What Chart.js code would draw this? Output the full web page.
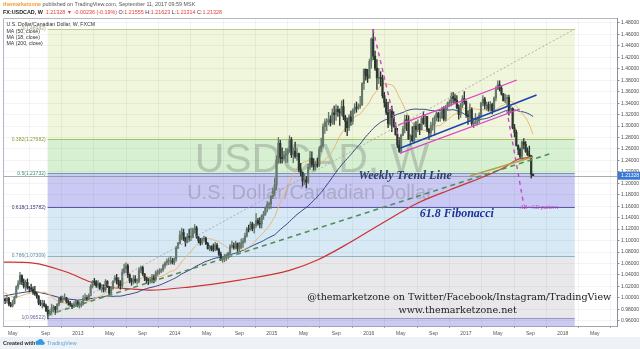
<!DOCTYPE html>
<html>
<head>
<meta charset="utf-8">
<script src="https://cdn.jsdelivr.net/npm/chart.js@4.4.1/dist/chart.umd.min.js"></script>
<style>
body{margin:0;background:#fff}
canvas{display:block}
</style>
</head>
<body>
<canvas id="c" width="640" height="349"></canvas>
<script>
// weekly USDCAD bars, first week starts Mon 26 Mar 2012
const firstWeek = [2012, 3, 26]
const firstOpen = 0.9990

const closes = [
0.9975,0.9950,0.9990,0.9890,0.9860,0.9900,1.0010,1.0190,1.0250,1.0390,
1.0280,1.0200,1.0270,1.0180,1.0170,1.0150,1.0100,1.0070,1.0030,0.9910,
0.9890,0.9900,0.9860,0.9780,0.9700,0.9760,0.9820,0.9840,0.9790,0.9890,
0.9990,0.9960,0.9990,1.0000,0.9930,0.9910,0.9870,0.9850,0.9890,0.9940,
0.9870,0.9870,0.9900,0.9990,1.0000,0.9990,1.0040,1.0200,1.0290,1.0280,
1.0210,1.0250,1.0160,1.0180,1.0140,1.0290,1.0190,1.0080,1.0160,1.0290,
1.0350,1.0300,1.0240,1.0210,1.0450,1.0510,1.0560,1.0400,1.0300,1.0280,
1.0330,1.0290,1.0290,1.0490,1.0530,1.0420,1.0360,1.0310,1.0300,1.0300,
1.0350,1.0320,1.0430,1.0450,1.0470,1.0490,1.0560,1.0610,1.0640,1.0640,
1.0640,1.0620,1.0680,1.0870,1.0950,1.1100,1.1140,1.1030,1.0970,1.1070,
1.1060,1.1060,1.1190,1.1220,1.1060,1.1000,1.0960,1.1030,1.1040,1.0950,
1.0860,1.0900,1.0850,1.0840,1.0920,1.0850,1.0760,1.0670,1.0680,1.0720,
1.0730,1.0780,1.0900,1.0910,1.0880,1.0950,1.0860,1.0880,1.0960,1.0990,
1.1080,1.1200,1.1190,1.1290,1.1210,1.1270,1.1350,1.1300,1.1290,1.1430,
1.1460,1.1580,1.1630,1.1640,1.1770,1.1870,1.1970,1.2410,1.2700,1.2450,
1.2430,1.2490,1.2510,1.2580,1.2760,1.2500,1.2560,1.2470,1.2520,1.2240,
1.2190,1.2040,1.2060,1.2020,1.2280,1.2440,1.2330,1.2290,1.2330,1.2320,
1.2600,1.2660,1.2990,1.3070,1.3080,1.3110,1.3060,1.3230,1.3200,1.3290,
1.3250,1.3230,1.3340,1.3160,1.3080,1.2970,1.3160,1.3080,1.3280,1.3320,
1.3310,1.3350,1.3370,1.3740,1.3990,1.3880,1.3840,1.4130,1.4520,1.4220,
1.4010,1.3840,1.3850,1.3830,1.3530,1.3410,1.3240,1.3040,1.3290,1.3150,
1.3000,1.2850,1.2670,1.2560,1.2840,1.2950,1.3110,1.3090,1.2770,1.2830,
1.2740,1.3000,1.2940,1.3030,1.2940,1.3130,1.3050,1.3170,1.2940,1.2880,
1.3010,1.3040,1.3150,1.3220,1.3150,1.3150,1.3300,1.3120,1.3340,1.3400,
1.3410,1.3520,1.3480,1.3450,1.3320,1.3200,1.3360,1.3480,1.3430,1.3200,
1.3170,1.3290,1.3040,1.3040,1.3080,1.3090,1.3190,1.3400,1.3470,1.3360,
1.3370,1.3300,1.3380,1.3270,1.3490,1.3640,1.3720,1.3660,1.3560,1.3440,
1.3480,1.3500,1.3280,1.3310,1.2970,1.2890,1.2660,1.2590,1.2470,1.2720,
1.2680,1.2560,1.2500,1.2480,1.2156,1.21328
]

const highs = [
1.0010,1.0000,1.0030,1.0010,0.9920,0.9960,1.0030,1.0210,1.0300,1.0445,
1.0400,1.0330,1.0310,1.0330,1.0200,1.0240,1.0190,1.0200,1.0100,1.0040,
0.9960,0.9960,0.9950,0.9890,0.9850,0.9790,0.9890,0.9870,0.9850,0.9900,
1.0000,1.0030,1.0030,1.0070,1.0010,0.9960,0.9940,0.9900,0.9930,0.9970,
0.9950,0.9930,0.9940,1.0040,1.0070,1.0040,1.0070,1.0230,1.0300,1.0340,
1.0300,1.0300,1.0260,1.0230,1.0230,1.0320,1.0300,1.0200,1.0200,1.0300,
1.0390,1.0410,1.0350,1.0300,1.0500,1.0590,1.0610,1.0590,1.0420,1.0340,
1.0390,1.0390,1.0330,1.0530,1.0560,1.0550,1.0420,1.0360,1.0340,1.0360,
1.0410,1.0400,1.0470,1.0490,1.0510,1.0510,1.0590,1.0630,1.0680,1.0700,
1.0720,1.0690,1.0700,1.0900,1.0970,1.1170,1.1220,1.1200,1.1060,1.1120,
1.1200,1.1220,1.1220,1.1280,1.1250,1.1070,1.1040,1.1050,1.1080,1.1060,
1.0970,1.0920,1.0910,1.0940,1.0970,1.0950,1.0870,1.0800,1.0710,1.0760,
1.0770,1.0800,1.0930,1.0990,1.0960,1.0990,1.0960,1.0970,1.1030,1.1040,
1.1130,1.1230,1.1270,1.1330,1.1320,1.1290,1.1470,1.1390,1.1400,1.1450,
1.1510,1.1590,1.1680,1.1670,1.1790,1.1920,1.2090,1.2480,1.2800,1.2750,
1.2620,1.2560,1.2610,1.2600,1.2830,1.2800,1.2620,1.2720,1.2620,1.2530,
1.2350,1.2200,1.2170,1.2120,1.2340,1.2560,1.2550,1.2430,1.2380,1.2440,
1.2640,1.2790,1.3040,1.3120,1.3130,1.3240,1.3180,1.3300,1.3350,1.3370,
1.3350,1.3300,1.3440,1.3460,1.3190,1.3140,1.3200,1.3260,1.3300,1.3390,
1.3420,1.3390,1.3520,1.3760,1.4000,1.4000,1.3990,1.4170,1.4540,1.4690,
1.4310,1.4160,1.4010,1.3950,1.3890,1.3590,1.3470,1.3420,1.3290,1.3350,
1.3250,1.3060,1.2960,1.2800,1.2860,1.3000,1.3190,1.3190,1.3180,1.2850,
1.2990,1.3060,1.3080,1.3110,1.3040,1.3150,1.3250,1.3200,1.3170,1.2960,
1.3070,1.3140,1.3180,1.3250,1.3240,1.3250,1.3330,1.3340,1.3360,1.3420,
1.3460,1.3580,1.3590,1.3560,1.3530,1.3370,1.3400,1.3530,1.3600,1.3440,
1.3270,1.3390,1.3320,1.3140,1.3220,1.3160,1.3230,1.3420,1.3530,1.3500,
1.3420,1.3420,1.3430,1.3400,1.3510,1.3690,1.3790,1.3790,1.3700,1.3570,
1.3560,1.3540,1.3540,1.3350,1.3320,1.3030,1.2930,1.2670,1.2620,1.2740,
1.2780,1.2730,1.2620,1.2650,1.2490,1.21623
]

const lows = [
0.9930,0.9900,0.9910,0.9860,0.9840,0.9840,0.9890,1.0000,1.0150,1.0230,
1.0230,1.0170,1.0120,1.0150,1.0100,1.0120,1.0060,1.0040,0.9990,0.9880,
0.9860,0.9820,0.9840,0.9760,0.9633,0.9700,0.9740,0.9750,0.9710,0.9780,
0.9860,0.9920,0.9920,0.9960,0.9910,0.9870,0.9850,0.9810,0.9830,0.9860,
0.9840,0.9820,0.9840,0.9870,0.9950,0.9950,0.9960,1.0030,1.0170,1.0220,
1.0180,1.0170,1.0140,1.0100,1.0100,1.0110,1.0180,1.0050,1.0050,1.0150,
1.0270,1.0240,1.0180,1.0150,1.0170,1.0420,1.0440,1.0350,1.0260,1.0220,
1.0240,1.0260,1.0240,1.0260,1.0440,1.0390,1.0300,1.0250,1.0230,1.0250,
1.0260,1.0260,1.0290,1.0390,1.0410,1.0440,1.0460,1.0520,1.0570,1.0580,
1.0590,1.0590,1.0580,1.0640,1.0860,1.0940,1.1010,1.1000,1.0900,1.0960,
1.0990,1.1000,1.1050,1.1130,1.1040,1.0960,1.0920,1.0930,1.0990,1.0930,
1.0850,1.0820,1.0820,1.0810,1.0820,1.0830,1.0730,1.0650,1.0620,1.0630,
1.0650,1.0680,1.0750,1.0870,1.0850,1.0860,1.0810,1.0810,1.0860,1.0880,
1.0960,1.1060,1.1150,1.1180,1.1170,1.1130,1.1230,1.1270,1.1220,1.1220,
1.1370,1.1440,1.1500,1.1550,1.1560,1.1730,1.1790,1.1880,1.2350,1.2350,
1.2350,1.2400,1.2360,1.2370,1.2540,1.2450,1.2360,1.2440,1.2400,1.2200,
1.2130,1.1950,1.1980,1.1920,1.2000,1.2240,1.2280,1.2230,1.2230,1.2280,
1.2290,1.2550,1.2630,1.2870,1.2920,1.3020,1.3000,1.3030,1.3030,1.3100,
1.3170,1.3010,1.3180,1.3110,1.2900,1.2830,1.2920,1.3010,1.3030,1.3220,
1.3240,1.3290,1.3310,1.3360,1.3640,1.3800,1.3760,1.3830,1.4010,1.4160,
1.3970,1.3640,1.3740,1.3700,1.3490,1.3330,1.3200,1.2970,1.3010,1.2900,
1.2980,1.2840,1.2620,1.2540,1.2520,1.2830,1.2880,1.2920,1.2770,1.2660,
1.2730,1.2700,1.2800,1.2900,1.2850,1.2930,1.3030,1.2990,1.2900,1.2770,
1.2810,1.2930,1.2840,1.3090,1.3080,1.3080,1.3130,1.3090,1.3090,1.3280,
1.3340,1.3350,1.3400,1.3410,1.3300,1.3120,1.3150,1.3320,1.3380,1.3150,
1.3030,1.3100,1.3010,1.2970,1.3030,1.3020,1.3050,1.3150,1.3350,1.3300,
1.3280,1.3260,1.3260,1.3210,1.3260,1.3440,1.3640,1.3610,1.3540,1.3440,
1.3410,1.3360,1.3190,1.3230,1.2950,1.2810,1.2650,1.2500,1.2440,1.2410,
1.2600,1.2540,1.2480,1.2460,1.2090,1.21314
]

// moving averages read where the window starts before the visible data
const ma18EarlyWeeks = [0, 6, 12]
const ma18EarlyValues = [1.010, 1.000, 1.006]
const ma50EarlyWeeks = [0, 8, 16, 24, 32, 40, 48]
const ma50EarlyValues = [1.003, 1.008, 1.012, 1.006, 0.999, 0.996, 0.999]
const ma200Weeks = [0, 16, 34, 47, 57, 70, 79, 100, 127, 154, 169, 186, 204, 223, 240, 258, 269, 276, 285]
const ma200Values = [1.0625, 1.0608, 1.0451, 1.0276, 1.0189, 1.0154, 1.0136, 1.0189, 1.0311, 1.0480, 1.0660, 1.0957, 1.1307, 1.1656, 1.1883, 1.2110, 1.2267, 1.2407, 1.2460]

// fibonacci retracement
const fibRatios = ["0", "0.382", "0.5", "0.618", "0.786", "1"]
const fibPrices = [1.46942, 1.27682, 1.21732, 1.15782, 1.07309, 0.96522]
const fibFrom = [2012, 9, 9]
const fibTo = [2018, 2, 15]

// drawings: [y,m,d,price] pairs
const trendLine = [[2012, 9, 9, 0.9700], [2017, 11, 11, 1.2512]]
const channelMid = [[2016, 4, 28, 1.2611], [2017, 9, 24, 1.3542]]
const channelTop = [[2016, 4, 21, 1.3018], [2017, 7, 12, 1.3804]]
const channelBottom = [[2016, 4, 28, 1.2529], [2017, 7, 23, 1.3298]]
const abcdLeg1 = [[2016, 1, 17, 1.4695], [2016, 4, 24, 1.2756]]
const abcdLeg2 = [[2017, 6, 4, 1.3280], [2017, 8, 7, 1.1621]]
const maHighlight = [[2017, 1, 16, 1.2128], [2017, 9, 10, 1.2459]]

// axes
const priceTicks = [0.96,0.98,1.00,1.02,1.04,1.06,1.08,1.10,1.12,1.14,1.16,1.18,1.20,1.22,1.24,1.26,1.28,1.30,1.32,1.34,1.36,1.38,1.40,1.42,1.44,1.46,1.48]
const timeTicks = [[2012,5],[2012,9],[2013,1],[2013,5],[2013,9],[2014,1],[2014,5],[2014,9],[2015,1],[2015,5],[2015,9],[2016,1],[2016,5],[2016,9],[2017,1],[2017,5],[2017,9],[2018,1],[2018,5]]
const timeLabels = ["May","Sep","2013","May","Sep","2014","May","Sep","2015","May","Sep","2016","May","Sep","2017","May","Sep","2018","May"]


function dayOf(y, m, d){
return (Date.UTC(y, m-1, d||1) - Date.UTC(2012, 0, 1)) / 864e5
}

const day0 = dayOf(...firstWeek)

function weekDay(k){
return day0 + 7*k
}

function pts(list){
return list.map(p => ({x: dayOf(p[0], p[1], p[2]), y: p[3]}))
}

let opens = [firstOpen].concat(closes.slice(0, -1))

let bodies = closes.map((c, i) => ({x: weekDay(i), y: [opens[i], c]}))
let wicks = closes.map((c, i) => ({x: weekDay(i), y: [lows[i], highs[i]]}))
let upColor = "#66786b"
let downColor = "#2c3430"
let barColors = closes.map((c, i) => c >= opens[i] ? upColor : downColor)

function sma(n){
let out = []
for(let i = n-1; i < closes.length; i++){
let s = 0
for(let j = i-n+1; j <= i; j++) s += closes[j]
out.push({x: weekDay(i), y: s/n})
}
return out
}

let ma18 = ma18EarlyWeeks.map((k, i) => ({x: weekDay(k), y: ma18EarlyValues[i]})).concat(sma(18))
let ma50 = ma50EarlyWeeks.map((k, i) => ({x: weekDay(k), y: ma50EarlyValues[i]})).concat(sma(50))
let ma200 = ma200Weeks.map((k, i) => ({x: weekDay(k), y: ma200Values[i]}))

let lastPrice = closes[closes.length-1]

function seg(data, color, width, dash, order){
return {type: "line", data: data, borderColor: color, borderWidth: width, borderDash: dash || [],
pointRadius: 0, fill: false, tension: 0, order: order}
}


const fibColors = {
line: ["#bccb92", "#a8bf6a", "#6e9eae", "#5a5aa6", "#8cb4c3", "#9797c2"],
label: ["#a0a67a", "#8c9a36", "#3e8e72", "#34347c", "#4d8d9d", "#64649a"],
fill: ["#eff6db", "#d7f0d2", "#c9c9f4", "#d6e9f5", "#e8e8eb", "#cbcbf2"]
}

const backPlugin = {
id: "back",
beforeDraw(chart){
let {ctx, chartArea: a, scales: {x, y}} = chart
ctx.save()
let x1 = x.getPixelForValue(dayOf(...fibFrom))
let x2 = x.getPixelForValue(dayOf(...fibTo))
for(let i = 0; i < fibPrices.length; i++){
let yTop = y.getPixelForValue(fibPrices[i])
let yBot = i < fibPrices.length-1 ? y.getPixelForValue(fibPrices[i+1]) : a.bottom
ctx.fillStyle = fibColors.fill[i]
ctx.fillRect(x1, yTop, x2-x1, yBot-yTop)
}
ctx.restore()
},
beforeDatasetsDraw(chart){
let {ctx, chartArea: a, scales: {x, y}} = chart
ctx.save()
ctx.beginPath()
ctx.rect(a.left, a.top, a.right-a.left, a.bottom-a.top)
ctx.clip()
// watermark
let cx = (a.left + a.right) / 2
ctx.textAlign = "center"
ctx.fillStyle = "rgba(110,110,110,0.32)"
ctx.font = '41px "Liberation Sans", Arial, sans-serif'
ctx.fillText("USDCAD, W", cx + 2, a.top + 154)
ctx.font = '20px "Liberation Sans", Arial, sans-serif'
ctx.fillText("U.S. Dollar/Canadian Dollar", cx, a.top + 181)
// fib level lines
let x1 = x.getPixelForValue(dayOf(...fibFrom))
let x2 = x.getPixelForValue(dayOf(...fibTo))
ctx.lineWidth = 1
fibPrices.forEach((p, i) => {
let py = Math.round(y.getPixelForValue(p)) + 0.5
ctx.strokeStyle = fibColors.line[i]
ctx.beginPath(); ctx.moveTo(x1, py); ctx.lineTo(x2, py); ctx.stroke()
})
// last price line
let ly = Math.round(y.getPixelForValue(lastPrice)) + 0.5
ctx.strokeStyle = "rgba(120,125,140,0.8)"
ctx.lineWidth = 0.8
ctx.beginPath(); ctx.moveTo(a.left, ly); ctx.lineTo(a.right, ly); ctx.stroke()
ctx.restore()
}
}

const notes = [
{text: "Weekly Trend Line", at: [2016, 5, 17, 1.2075], font: 'bold italic 12px "Liberation Serif", serif', color: "#2d3f6c", align: "center"},
{text: "61.8 Fibonacci", at: [2016, 11, 28, 1.1411], font: 'bold italic 12px "Liberation Serif", serif', color: "#1f2f9c", align: "center"},
{text: "AB=CD pattern", at: [2017, 7, 23, 1.1551], font: 'italic 6px "Liberation Serif", serif', color: "#c43cc4", align: "left"},
{text: "@themarketzone on Twitter/Facebook/Instagram/TradingView", at: [2016, 12, 7, 0.9962], font: '9.6px "DejaVu Serif", serif', color: "#222", align: "center"},
{text: "www.themarketzone.net", at: [2016, 12, 1, 0.9735], font: '9.6px "DejaVu Serif", serif', color: "#222", align: "center"}
]

function drawSegs(ctx, x, y, segs){
for(let s of segs){
ctx.font = s[2]
ctx.fillStyle = s[1]
ctx.fillText(s[0], x, y)
x += ctx.measureText(s[0]).width
}
}

const frontPlugin = {
id: "front",
afterDatasetsDraw(chart){
let {ctx, chartArea: a, scales: {x, y}} = chart
ctx.save()
notes.forEach(n => {
ctx.font = n.font
ctx.fillStyle = n.color
ctx.textAlign = n.align
ctx.fillText(n.text, x.getPixelForValue(dayOf(n.at[0], n.at[1], n.at[2])), y.getPixelForValue(n.at[3]))
})
// fib labels
let x1 = x.getPixelForValue(dayOf(...fibFrom))
ctx.textAlign = "right"
ctx.textBaseline = "middle"
ctx.font = '5px "Liberation Sans", Arial, sans-serif'
fibPrices.forEach((p, i) => {
ctx.fillStyle = fibColors.label[i]
ctx.fillText(fibRatios[i] + "(" + p.toFixed(5) + ")", x1 - 2, y.getPixelForValue(p))
})
ctx.restore()
},
afterDraw(chart){
let {ctx, chartArea: a, scales: {y}} = chart
ctx.save()
// frame
ctx.strokeStyle = "#b4b8c4"
ctx.lineWidth = 1
ctx.beginPath()
ctx.moveTo(a.left + 0.5, a.bottom); ctx.lineTo(a.left + 0.5, a.top + 0.5); ctx.lineTo(a.right, a.top + 0.5)
ctx.stroke()
// price label on the axis
let py = y.getPixelForValue(lastPrice)
ctx.fillStyle = "#3a78d4"
ctx.fillRect(a.right + 1, py - 4, 22, 8)
ctx.fillStyle = "#fff"
ctx.font = '5px "Liberation Sans", Arial, sans-serif'
ctx.textBaseline = "middle"
ctx.fillText(lastPrice.toFixed(5), a.right + 4, py + 0.3)
// legend
ctx.fillStyle = "#333"
ctx.font = '5.2px "Liberation Sans", Arial, sans-serif'
ctx.textBaseline = "alphabetic"
ctx.fillText("U.S. Dollar/Canadian Dollar, W, FXCM", 6.5, 26)
ctx.fillText("MA (50, close)", 6.5, 32.8)
ctx.fillText("MA (18, close)", 6.5, 38.8)
ctx.fillText("MA (200, close)", 6.5, 45)
// header
let red = "#e2403a"
let f = '5.4px "Liberation Sans", Arial, sans-serif'
let fb = 'bold 5.4px "Liberation Sans", Arial, sans-serif'
drawSegs(ctx, 3, 6, [["themarketzone", "#f29a2e", fb], [" published on TradingView.com, September 11, 2017 09:59 MSK", "#555", f]])
drawSegs(ctx, 3, 13.5, [["FX:USDCAD, W  ", "#222", fb], ["1.21328 ", red, f], ["\u25BC ", red, f], ["-0.00236 (-0.19%) ", red, f],
["O:", "#333", f], ["1.21555 ", red, f], ["H:", "#333", f], ["1.21623 ", red, f], ["L:", "#333", f], ["1.21314 ", red, f], ["C:", "#333", f], ["1.21328", red, f]])
// footer
ctx.fillStyle = "#eef1f5"
ctx.fillRect(0, 337, 640, 12)
ctx.fillStyle = "#2f9be0"
ctx.beginPath()
ctx.arc(37.5, 342.5, 2, 0, Math.PI*2)
ctx.arc(40.5, 341.5, 2.6, 0, Math.PI*2)
ctx.arc(43, 343, 1.8, 0, Math.PI*2)
ctx.fill()
ctx.fillRect(36, 342.5, 7.5, 2.3)
drawSegs(ctx, 3, 345, [["Created with", "#333", fb]])
drawSegs(ctx, 47, 345, [["TradingView", "#56a6dc", f]])
ctx.restore()
}
}


new Chart(document.getElementById("c"), {
type: "bar",
data: {
datasets: [
seg(pts([[...fibFrom, fibPrices[5]], [...fibTo, fibPrices[0]]]), "#a0a0a0", 0.8, [2, 2], 0),
seg(pts(trendLine), "#4f8e5a", 1.6, [5, 4], 0),
seg(pts(channelMid), "#2141b4", 1.5, [], 0),
seg(pts(channelTop), "#e040c8", 1.3, [], 0),
seg(pts(channelBottom), "#e040c8", 1.3, [], 0),
seg(pts(abcdLeg1), "#cc44cc", 1.4, [4, 4], 0),
seg(pts(abcdLeg2), "#cc44cc", 1.4, [4, 4], 0),
seg(pts(maHighlight), "#b5a04a", 1.4, [], 0),
{type: "bar", data: bodies, backgroundColor: barColors, barThickness: 1.5, grouped: false, minBarLength: 0.8, order: 1},
{type: "bar", data: wicks, backgroundColor: barColors, barThickness: 0.7, grouped: false, order: 2},
seg(ma18, "#e9b778", 1, [], 3),
seg(ma50, "#34458a", 1, [], 3),
Object.assign(seg(ma200, "#cc3333", 1.25, [], 3), {cubicInterpolationMode: "monotone"})
]
},
options: {
responsive: false,
animation: false,
layout: {padding: {left: 3, top: 18, right: 0, bottom: 12}},
plugins: {legend: {display: false}, tooltip: {enabled: false}},
scales: {
x: {
type: "linear", offset: false, min: 84, max: 2396,
afterBuildTicks: s => { s.ticks = timeTicks.map(t => ({value: dayOf(t[0], t[1], 1)})) },
afterFit: s => { s.height = 11 },
ticks: {callback: (v, i) => timeLabels[i], font: {size: 5, family: "Liberation Sans"}, color: "#555", padding: 2.5, maxRotation: 0, autoSkip: false},
grid: {color: "rgba(0,0,0,0.045)", tickColor: "#a0a4b0", tickLength: 2},
border: {color: "#a0a4b0"}
},
y: {
position: "right", min: 0.9508, max: 1.4887,
afterBuildTicks: s => { s.ticks = priceTicks.map(v => ({value: v})) },
afterFit: s => { s.width = 23 },
ticks: {callback: v => v.toFixed(5), font: {size: 5, family: "Liberation Sans"}, color: "#4a4a4a", padding: 1.5},
grid: {color: "rgba(0,0,0,0.045)", tickColor: "#8a8fa0", tickLength: 2.5},
border: {color: "#8a8fa0"}
}
}
},
plugins: [backPlugin, frontPlugin]
})
</script>
</body>
</html>
